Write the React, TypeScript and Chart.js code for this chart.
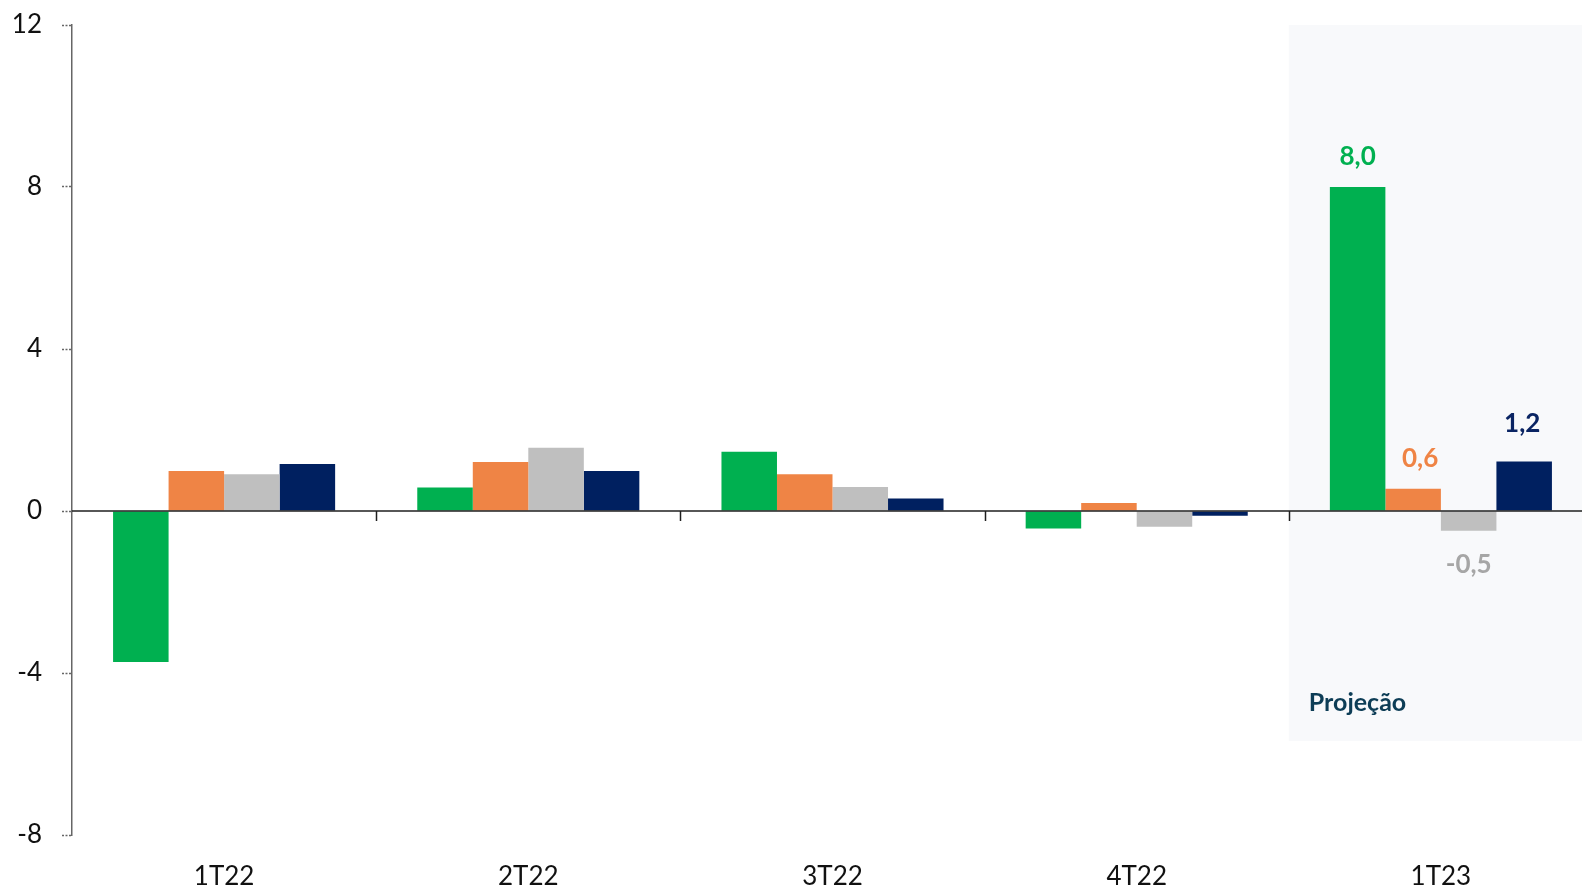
import React, { useEffect, useRef } from "react";
import { Chart, registerables } from "chart.js";

Chart.register(...registerables);

const categories = ["1T22", "2T22", "3T22", "4T22", "1T23"];
const seriesNames = ["Série 1", "Série 2", "Série 3", "Série 4"];
const seriesGreen = [-3.73, 0.58, 1.46, -0.43, 8.0];
const seriesOrange = [0.99, 1.21, 0.91, 0.2, 0.55];
const seriesGray = [0.91, 1.56, 0.59, -0.39, -0.49];
const seriesNavy = [1.16, 0.99, 0.31, -0.12, 1.22];
const barColors = ["#00B050", "#EF8445", "#BFBFBF", "#002060"];
const labelColors = ["#00B050", "#EF8445", "#A6A6A6", "#0A2463"];
const labelDx = [0, 7, 0, -2];
const labelGap = [22, 22, 42, 30];
const yTicks = [-8, -4, 0, 4, 8, 12];
const projectionLabel = "Projeção";
const projectionBottomValue = -5.68;
const projectionTextValue = -4.75;
const labelledIndex = 4;

const FONT = "Lato, 'Open Sans', sans-serif";

const overlayPlugin = {
  id: "overlay",
  beforeDatasetsDraw(chart: any) {
    const { ctx, chartArea, scales } = chart;
    const y = scales.y;
    const n = categories.length;
    const step = (chartArea.right - chartArea.left) / n;
    const left = chartArea.left + step * (n - 1);
    const top = y.getPixelForValue(12);
    const bottom = y.getPixelForValue(projectionBottomValue);
    ctx.save();
    ctx.fillStyle = "#F8F9FB";
    ctx.fillRect(left, top, chart.width - left, bottom - top);
    ctx.font = `bold 25px ${FONT}`;
    ctx.fillStyle = "#0D3D56";
    ctx.textAlign = "left";
    ctx.textBaseline = "middle";
    ctx.fillText(projectionLabel, left + 20, y.getPixelForValue(projectionTextValue));
    ctx.restore();
  },
  afterDatasetsDraw(chart: any) {
    const { ctx, chartArea, scales } = chart;
    const y = scales.y;
    const zeroY = y.getPixelForValue(0);
    const n = categories.length;
    const step = (chartArea.right - chartArea.left) / n;
    ctx.save();
    ctx.strokeStyle = "#1F1F1F";
    ctx.lineWidth = 1.5;
    ctx.beginPath();
    ctx.moveTo(chartArea.left, zeroY);
    ctx.lineTo(chart.width, zeroY);
    ctx.stroke();
    for (let i = 1; i < n; i++) {
      const bx = Math.round(chartArea.left + step * i) + 0.5;
      ctx.beginPath();
      ctx.moveTo(bx, zeroY);
      ctx.lineTo(bx, zeroY + 10);
      ctx.stroke();
    }
    ctx.font = `bold 26px ${FONT}`;
    ctx.textAlign = "center";
    ctx.textBaseline = "alphabetic";
    chart.data.datasets.forEach((ds: any, di: number) => {
      const meta = chart.getDatasetMeta(di);
      const el = meta.data[labelledIndex];
      if (!el) return;
      const v = ds.data[labelledIndex];
      const txt = v.toFixed(1).replace(".", ",");
      ctx.fillStyle = labelColors[di];
      const x = el.x + labelDx[di];
      if (v >= 0) {
        ctx.fillText(txt, x, el.y - labelGap[di]);
      } else {
        ctx.fillText(txt, x, el.y + labelGap[di]);
      }
    });
    ctx.restore();
  },
};

export default function App() {
  const ref = useRef<HTMLCanvasElement>(null);
  useEffect(() => {
    if (!ref.current) return;
    const seriesData = [seriesGreen, seriesOrange, seriesGray, seriesNavy];
    const chart = new Chart(ref.current, {
      type: "bar",
      data: {
        labels: categories,
        datasets: seriesData.map((d, i) => ({
          label: seriesNames[i],
          data: d,
          backgroundColor: barColors[i],
          borderWidth: 0,
          barPercentage: 1.0,
          categoryPercentage: 0.73,
        })),
      },
      options: {
        responsive: false,
        animation: false,
        devicePixelRatio: 1,
        layout: { padding: { top: 25, right: 7, bottom: 0, left: 0 } },
        plugins: {
          legend: { display: false },
          tooltip: { enabled: false },
        },
        scales: {
          x: {
            grid: { display: false },
            border: { display: false },
            ticks: {
              font: { family: FONT, size: 26 },
              color: "#111111",
              padding: 18,
              maxRotation: 0,
            },
            afterFit: (scale: any) => {
              scale.height = 54;
              scale.paddingLeft = 0;
              scale.paddingRight = 0;
            },
          },
          y: {
            min: -8,
            max: 12,
            afterBuildTicks: (scale: any) => {
              scale.ticks = yTicks.map((v) => ({ value: v }));
            },
            ticks: {
              font: { family: FONT, size: 26 },
              color: "#111111",
              padding: 20,
            },
            grid: {
              display: true,
              drawOnChartArea: false,
              drawTicks: true,
              tickLength: 10,
              tickColor: "#666666",
              tickWidth: 1.5,
              tickBorderDash: [2, 1.5],
            },
            border: {
              display: true,
              color: "#666666",
              width: 1.5,
              dash: [2.5, 1.5],
            },
            afterFit: (scale: any) => {
              scale.width = 72;
              scale.paddingTop = 0;
              scale.paddingBottom = 0;
            },
          },
        },
      },
      plugins: [overlayPlugin],
    });
    return () => chart.destroy();
  }, []);
  return (
    <div
      style={{
        position: "fixed",
        left: 0,
        top: 0,
        width: "100vw",
        height: "100vh",
        overflow: "hidden",
        background: "#FFFFFF",
      }}
    >
      <canvas ref={ref} width={1600} height={889} style={{ display: "block" }} />
    </div>
  );
}
